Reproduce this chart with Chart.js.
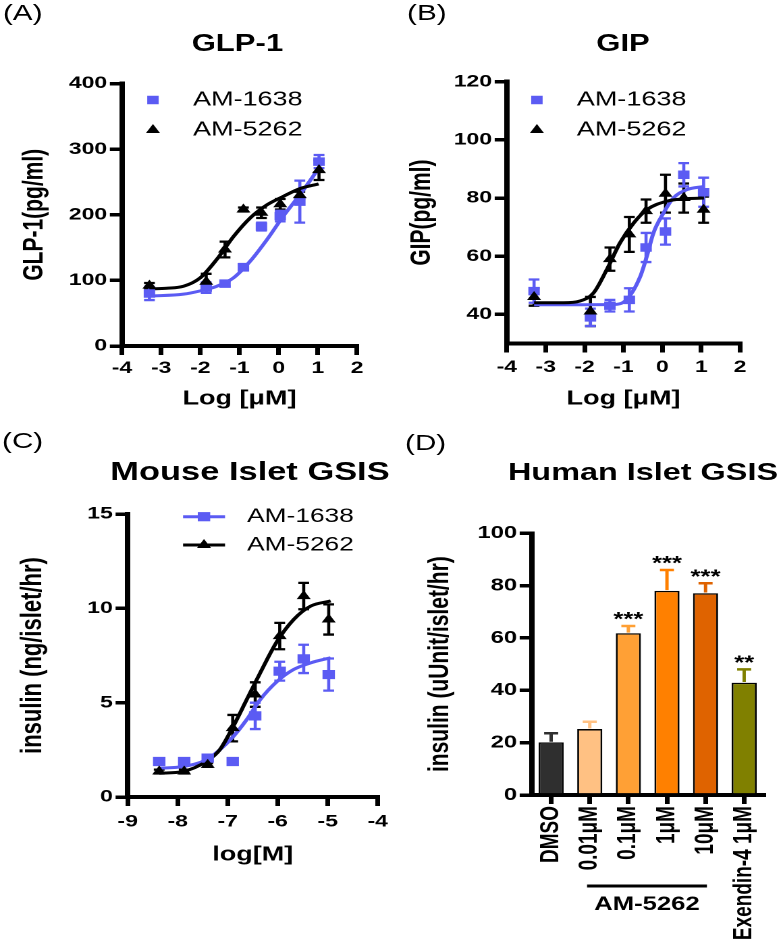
<!DOCTYPE html>
<html><head><meta charset="utf-8">
<script src="https://cdn.jsdelivr.net/npm/chart.js@4.4.1/dist/chart.umd.min.js"></script>
<style>
html,body{margin:0;padding:0;background:#fff;}
#wrap{position:relative;width:578px;height:950px;transform:scaleX(1.35);transform-origin:0 0;font-family:"Liberation Sans",Arial,sans-serif;color:#000;}
#wrap canvas{position:absolute;}
.lbl{position:absolute;line-height:1;white-space:nowrap;font-size:22px;}
.ttl{position:absolute;line-height:1;white-space:nowrap;font-weight:bold;text-align:center;width:300px;}
</style></head><body>
<div id="wrap">
  <div class="lbl" style="left:2.2px;top:2px">(A)</div>
  <div class="lbl" style="left:301.5px;top:2px">(B)</div>
  <div class="lbl" style="left:1.5px;top:430px">(C)</div>
  <div class="lbl" style="left:300px;top:432px">(D)</div>
  <div class="ttl" style="left:25.9px;top:32px;font-size:23px">GLP-1</div>
  <div class="ttl" style="left:311.5px;top:32px;font-size:23px">GIP</div>
  <div class="ttl" style="left:35.2px;top:459px;font-size:25.5px">Mouse Islet GSIS</div>
  <div class="ttl" style="left:326.3px;top:460px;font-size:24px">Human Islet GSIS</div>
  <canvas id="cA" width="289" height="360" style="left:0;top:60px"></canvas>
  <canvas id="cB" width="289" height="360" style="left:288.89px;top:60px"></canvas>
  <canvas id="cC" width="300" height="390" style="left:0;top:490px"></canvas>
  <canvas id="cD" width="289" height="460" style="left:288.89px;top:490px"></canvas>
</div>
<script>
// ---------------- DATA ----------------
// (A) GLP-1
const logConcA = [-3.3, -1.85, -1.37, -0.9, -0.44, 0.04, 0.54, 1.03];
const glp1_AM1638 = [80, 89, 95, 120, 182, 198, 220, 281];
const glp1_AM1638_err = [10, 8, 4, 5, 6, 8, 32, 10];
const glp1_AM5262 = [92, 98, 147, 208, 203, 216, 230, 268];
const glp1_AM5262_err = [4, 12, 12, 3, 8, 8, 5, 15];
const fitXA_5262 = [-3.3, -2.86, -2.43, -2.0, -1.58, -1.15, -0.73, -0.30, 0.12, 0.55, 1.02];
const fitA_5262 = [87, 88, 91, 104, 132, 167, 195, 215, 228, 240, 247];
const fitXA_1638 = [-3.3, -2.43, -2.0, -1.58, -1.15, -0.73, -0.30, 0.12, 0.55, 1.06];
const fitA_1638 = [76, 79, 84, 91, 104, 129, 162, 198, 231, 274];
const xTicksAB = [-4, -3, -2, -1, 0, 1, 2];
const yTicksA = [0, 100, 200, 300, 400];

// (B) GIP
const logConcB = [-3.3, -1.85, -1.35, -0.85, -0.42, 0.08, 0.55, 1.06];
const gip_AM1638 = [48, 39, 43, 45, 63, 68.5, 88, 82];
const gip_AM1638_err = [4, 3, 2, 4, 5, 4.5, 4, 5];
const gip_AM5262 = [46, 41, 59, 67.5, 75.5, 81.5, 80, 76];
const gip_AM5262_err = [3, 5, 4, 6, 4, 6.5, 5, 4.5];
const fitXB_5262 = [-3.3, -2.54, -2.12, -1.77, -1.43, -1.09, -0.74, -0.40, 0.11, 0.63, 1.07];
const fitB_5262 = [44, 44, 44.6, 47.4, 55.4, 64.6, 71.4, 76, 78.9, 79.8, 80];
const fitXB_1638 = [-3.3, -1.26, -0.92, -0.57, -0.40, -0.23, 0.03, 0.28, 0.63, 1.07];
const fitB_1638 = [43.3, 43.4, 45.1, 53, 60, 68, 74.9, 80, 82.9, 84];
const yTicksB = [40, 60, 80, 100, 120];

// (C) Mouse islet GSIS
const logConcC = [-8.37, -7.87, -7.4, -6.9, -6.45, -5.96, -5.48, -4.98];
const ins_AM1638 = [1.88, 1.88, 2.06, 1.88, 4.3, 6.67, 7.32, 6.49];
const ins_AM1638_err = [0.1, 0.1, 0.1, 0.1, 0.7, 0.5, 0.75, 0.85];
const ins_AM5262 = [1.35, 1.35, 1.7, 3.65, 5.43, 8.53, 10.65, 9.41];
const ins_AM5262_err = [0.1, 0.1, 0.1, 0.7, 0.65, 0.7, 0.7, 0.8];
const fitXC = [-8.37, -7.9, -7.43, -7.16, -6.89, -6.62, -6.35, -6.01, -5.68, -5.34, -4.94];
const fitC_5262 = [1.26, 1.35, 1.88, 2.5, 3.74, 5.16, 6.58, 8.26, 9.41, 10.12, 10.39];
const fitC_1638 = [1.53, 1.61, 1.97, 2.5, 3.2, 4.1, 5.16, 6.13, 6.76, 7.11, 7.38];
const xTicksC = [-9, -8, -7, -6, -5, -4];
const yTicksC = [0, 5, 10, 15];

// (D) Human islet GSIS
const groupsD = ['DMSO', '0.01\u03bcM', '0.1\u03bcM', '1\u03bcM', '10\u03bcM', 'Exendin-4 1\u03bcM'];
const insulinD = [20.1, 25.2, 61.8, 78.0, 77.1, 42.9];
const insulinD_err = [3.5, 2.8, 2.8, 8.0, 3.8, 5.1];
const sigD = ['', '', '***', '***', '***', '**'];
const yTicksD = [0, 20, 40, 60, 80, 100];

// ---------------- STYLE / HELPERS ----------------
const S = 1.35;                 // horizontal stretch of the figure
const FF = '"Liberation Sans", Arial, sans-serif';
const BLUE = '#5b5bf3', BLACK = '#000000';
const barFill = ['#2f2f2f', '#ffc183', '#ffa035', '#ff8000', '#df6300', '#808000'];
const toXY = (xs, ys) => xs.map((x, i) => ({x: x, y: ys[i]}));

function axis(o) {
  return {
    type: o.type || 'linear',
    min: o.min, max: o.max,
    offset: o.offset || false,
    afterBuildTicks: o.ticks ? (s) => { s.ticks = o.ticks.map(v => ({value: v})); } : undefined,
    afterFit: (s) => { if (o.horizontal) s.height = o.size; else s.width = o.size; },
    border: {display: true, color: '#000', width: 4},
    grid: {display: true, drawOnChartArea: false, drawTicks: true, tickLength: o.tickLen, color: '#000', lineWidth: 3.5, offset: false},
    ticks: {color: '#000', font: {family: FF, size: o.tickFont || 17, weight: 'bold'}, padding: o.tickPad,
            autoSkip: false, minRotation: o.rot || 0, maxRotation: o.rot || 0},
    title: {display: true, text: o.title, color: '#000', font: {family: FF, size: o.titleSize, weight: 'bold'},
            padding: o.horizontal ? {top: 0, bottom: 0} : {top: o.titlePad, bottom: 0}}
  };
}

const errPlugin = {
  id: 'errPlugin',
  beforeDatasetsDraw(chart) {
    const ctx = chart.ctx, ys = chart.scales.y;
    chart.data.datasets.forEach((ds, i) => {
      if (!ds.errors) return;
      const meta = chart.getDatasetMeta(i);
      ctx.save();
      ctx.strokeStyle = ds.errColor;
      ctx.lineWidth = 2.3;
      ds.data.forEach((pt, j) => {
        const e = ds.errors[j];
        const px = meta.data[j].x;
        const t = ys.getPixelForValue(pt.y + e), b = ys.getPixelForValue(pt.y - e);
        const c = ds.capHalf;
        ctx.beginPath();
        ctx.moveTo(px, t); ctx.lineTo(px, b);
        ctx.moveTo(px - c, t); ctx.lineTo(px + c, t);
        ctx.moveTo(px - c, b); ctx.lineTo(px + c, b);
        ctx.stroke();
      });
      ctx.restore();
    });
  }
};

function legendPlugin(o) {
  return {
    id: 'customLegend',
    afterDraw(chart) {
      const ctx = chart.ctx;
      ctx.save();
      o.items.forEach(it => {
        if (o.lineFrom != null) {
          ctx.strokeStyle = it.color; ctx.lineWidth = 3;
          ctx.beginPath(); ctx.moveTo(o.lineFrom, it.y); ctx.lineTo(o.lineTo, it.y); ctx.stroke();
        }
        ctx.fillStyle = it.color; ctx.strokeStyle = it.color;
        Chart.helpers.drawPoint(ctx, {pointStyle: it.style, radius: it.r, borderWidth: 0, rotation: 0}, o.markerX, it.y);
        ctx.fillStyle = '#000';
        ctx.font = o.font; ctx.textBaseline = 'middle'; ctx.textAlign = 'left';
        ctx.fillText(it.label, o.textX, it.y);
      });
      ctx.restore();
    }
  };
}

function curveChart(id, c) {
  const datasets = [
    {label: 'AM-5262', data: toXY(c.x, c.y5262), errors: c.e5262, errColor: BLACK, capHalf: 4,
     showLine: false, pointStyle: 'triangle', pointRadius: 6, pointBackgroundColor: BLACK, pointBorderWidth: 0, borderColor: BLACK},
    {label: 'AM-1638', data: toXY(c.x, c.y1638), errors: c.e1638, errColor: BLUE, capHalf: 4,
     showLine: false, pointStyle: 'rect', pointRadius: c.sqR, pointBackgroundColor: BLUE, pointBorderWidth: 0, borderColor: BLUE},
    {label: 'AM-5262 fit', data: toXY(c.fx5262, c.fy5262), showLine: true, pointRadius: 0, borderColor: BLACK,
     borderWidth: 3, cubicInterpolationMode: 'monotone', fill: false},
    {label: 'AM-1638 fit', data: toXY(c.fx1638, c.fy1638), showLine: true, pointRadius: 0, borderColor: BLUE,
     borderWidth: 3, cubicInterpolationMode: 'monotone', fill: false}
  ];
  return new Chart(document.getElementById(id), {
    type: 'scatter',
    data: {datasets},
    options: {
      responsive: false, animation: false, devicePixelRatio: 2, events: [],
      layout: {padding: c.pad},
      plugins: {legend: {display: false}, tooltip: {enabled: false}},
      scales: {x: c.xAxis, y: c.yAxis}
    },
    plugins: [errPlugin, legendPlugin(c.legend)]
  });
}

// ---------------- PANEL A ----------------
curveChart('cA', {
  x: logConcA, y1638: glp1_AM1638, e1638: glp1_AM1638_err, y5262: glp1_AM5262, e5262: glp1_AM5262_err,
  fx5262: fitXA_5262, fy5262: fitA_5262, fx1638: fitXA_1638, fy1638: fitA_1638, sqR: 6,
  pad: {left: 0, top: 23.5, right: 24.56, bottom: 9},
  xAxis: axis({min: -4, max: 2, ticks: xTicksAB, horizontal: true, size: 65, tickLen: 9, tickPad: 3,
               title: 'Log [\u03bcM]', titleSize: 20}),
  yAxis: axis({min: 0, max: 400, ticks: yTicksA, size: 90.37, tickLen: 9, tickPad: 2,
               title: 'GLP-1(pg/ml)', titleSize: 21, titlePad: 13.3}),
  legend: {markerX: 113.3, textX: 143, font: '20px ' + FF,
           items: [{label: 'AM-1638', style: 'rect', r: 6, color: BLUE, y: 40},
                   {label: 'AM-5262', style: 'triangle', r: 6, color: BLACK, y: 70}]}
});

// ---------------- PANEL B ----------------
curveChart('cB', {
  x: logConcB, y1638: gip_AM1638, e1638: gip_AM1638_err, y5262: gip_AM5262, e5262: gip_AM5262_err,
  fx5262: fitXB_5262, fy5262: fitB_5262, fx1638: fitXB_1638, fy1638: fitB_1638, sqR: 6,
  pad: {left: 0, top: 21.7, right: 29.74, bottom: 9},
  xAxis: axis({min: -4, max: 2, ticks: xTicksAB, horizontal: true, size: 67.5, tickLen: 9, tickPad: 4.8,
               title: 'Log [\u03bcM]', titleSize: 20}),
  yAxis: axis({min: 30, max: 120, ticks: yTicksB, size: 86.44, tickLen: 9, tickPad: 2,
               title: 'GIP(pg/ml)', titleSize: 21, titlePad: 10.9}),
  legend: {markerX: 108.7, textX: 138.3, font: '20px ' + FF,
           items: [{label: 'AM-1638', style: 'rect', r: 6, color: BLUE, y: 40},
                   {label: 'AM-5262', style: 'triangle', r: 6, color: BLACK, y: 70}]}
});

// ---------------- PANEL C ----------------
curveChart('cC', {
  x: logConcC, y1638: ins_AM1638, e1638: ins_AM1638_err, y5262: ins_AM5262, e5262: ins_AM5262_err,
  fx5262: fitXC, fy5262: fitC_5262, fx1638: fitXC, fy1638: fitC_1638, sqR: 6.5,
  pad: {left: 0, top: 24, right: 20.22, bottom: 13},
  xAxis: axis({min: -9, max: -4, ticks: xTicksC, horizontal: true, size: 70, tickLen: 9, tickPad: 5.5,
               title: 'log[M]', titleSize: 20}),
  yAxis: axis({min: 0, max: 15, ticks: yTicksC, size: 94.59, tickLen: 9, tickPad: 2,
               title: 'insulin (ng/islet/hr)', titleSize: 22, titlePad: 11.2}),
  legend: {markerX: 151.1, lineFrom: 135.6, lineTo: 166.7, textX: 183, font: '19.5px ' + FF,
           items: [{label: 'AM-1638', style: 'rect', r: 6.5, color: BLUE, y: 26.7},
                   {label: 'AM-5262', style: 'triangle', r: 6, color: BLACK, y: 55}]}
});

// ---------------- PANEL D ----------------
const barExtras = {
  id: 'barExtras',
  afterDatasetsDraw(chart) {
    const ctx = chart.ctx, meta = chart.getDatasetMeta(0), ys = chart.scales.y;
    ctx.save();
    meta.data.forEach((bar, j) => {
      const top = ys.getPixelForValue(insulinD[j] + insulinD_err[j]);
      const base = ys.getPixelForValue(insulinD[j]) - 0.7;
      ctx.strokeStyle = barFill[j]; ctx.lineWidth = 2.5;
      ctx.beginPath();
      ctx.moveTo(bar.x, base); ctx.lineTo(bar.x, top);
      ctx.moveTo(bar.x - 5.2, top); ctx.lineTo(bar.x + 5.2, top);
      ctx.stroke();
      if (sigD[j]) {
        ctx.fillStyle = '#000'; ctx.font = 'bold 19px ' + FF;
        ctx.textAlign = 'center'; ctx.textBaseline = 'alphabetic';
        ctx.fillText(sigD[j], bar.x, top - 0.5);
      }
    });
    ctx.restore();
  },
  afterDraw(chart) {
    const ctx = chart.ctx, xs = chart.scales.x;
    const x1 = xs.getPixelForValue(1) - 2, x2 = xs.getPixelForValue(4) + 1;
    ctx.save();
    ctx.strokeStyle = '#000'; ctx.lineWidth = 3;
    ctx.beginPath(); ctx.moveTo(x1, 396); ctx.lineTo(x2, 396); ctx.stroke();
    ctx.fillStyle = '#000'; ctx.font = 'bold 19px ' + FF;
    ctx.textAlign = 'center'; ctx.textBaseline = 'middle';
    ctx.fillText('AM-5262', (x1 + x2) / 2, 415);
    ctx.restore();
  }
};

new Chart(document.getElementById('cD'), {
  type: 'bar',
  data: {labels: groupsD, datasets: [{data: insulinD, backgroundColor: barFill, borderColor: '#000',
         borderWidth: 1.4, barPercentage: 0.65, categoryPercentage: 1}]},
  options: {
    responsive: false, animation: false, devicePixelRatio: 2, events: [],
    layout: {padding: {left: 0, top: 43.3, right: 12.48, bottom: 0}},
    plugins: {legend: {display: false}, tooltip: {enabled: false}},
    scales: {
      x: Object.assign(axis({type: 'category', offset: true, horizontal: true, size: 155, tickLen: 9, tickPad: 2,
                             tickFont: 19, rot: 90, title: '', titleSize: 10}), {title: {display: false}}),
      y: axis({min: 0, max: 100, ticks: yTicksD, size: 104.96, tickLen: 9, tickPad: 2, tickFont: 17.5,
               title: 'insulin (uUnit/islet/hr)', titleSize: 21, titlePad: 24.4})
    }
  },
  plugins: [barExtras]
});
</script>
</body></html>
